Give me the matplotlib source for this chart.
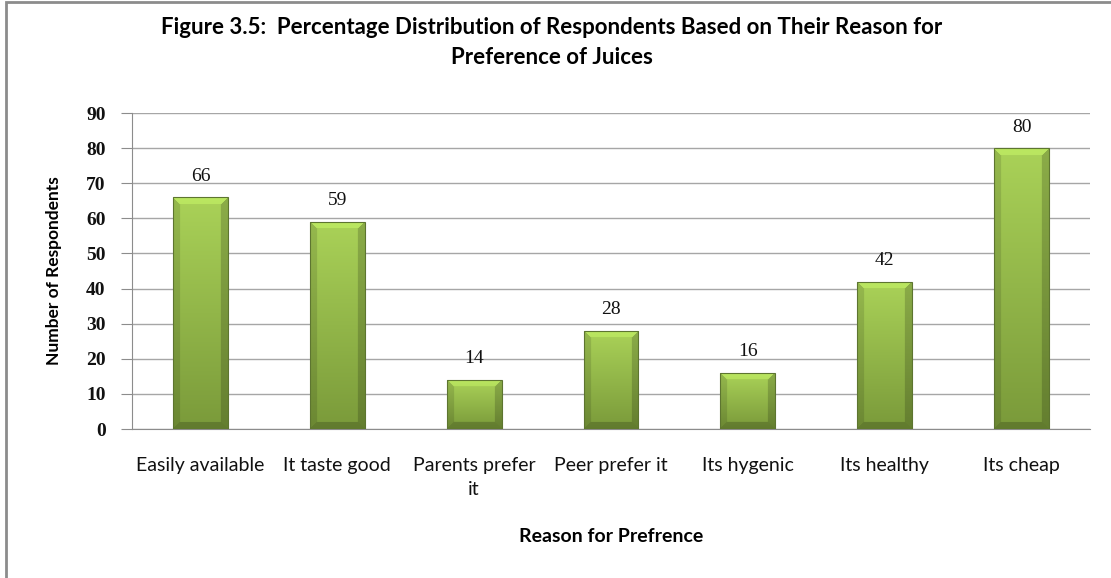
import matplotlib.pyplot as plt
from matplotlib.patches import Rectangle
import numpy as np

reasons = ['Easily available', 'It taste good', 'Parents prefer\nit', 'Peer prefer it',
           'Its hygenic', 'Its healthy', 'Its cheap']
respondents = [66, 59, 14, 28, 16, 42, 80]
yticks = [0, 10, 20, 30, 40, 50, 60, 70, 80, 90]

W, H, dpi = 1111, 578, 100
fig = plt.figure(figsize=(W/dpi, H/dpi), dpi=dpi)
ax = fig.add_axes([132/W, 1-429/H, (1090-132)/W, (429-113)/H])

sans = 'Lato'
serif = 'Liberation Serif'
grey = '#8c8c8c'

x = np.arange(len(reasons))
bw = 0.4
ax.set_xlim(-0.5, len(reasons) - 0.5)
ax.set_ylim(0, 90)

# gradient + bevel fill for the bars
top = np.array([170, 210, 88]) / 255.
bot = np.array([122, 154, 58]) / 255.
px_per_x = (1090 - 132) / len(reasons)
px_per_y = (429 - 113) / 90.
bev = 7


def bar_image(h_px, w_px):
    ny, nx = max(int(h_px), 2), max(int(w_px), 2)
    t = np.linspace(0, 1, ny)[:, None, None]
    img = (top * (1 - t) + bot * t) * np.ones((ny, nx, 3))
    yy, xx = np.mgrid[0:ny, 0:nx]
    d_top, d_bot = yy, ny - 1 - yy
    d_left, d_right = xx, nx - 1 - xx
    dmin = np.minimum.reduce([d_top, d_bot, d_left, d_right])
    edge = dmin < bev
    which = np.argmin(np.stack([d_top, d_bot, d_left, d_right]), axis=0)
    shade = np.ones((ny, nx))
    shade[edge & (which == 0)] = 1.10
    shade[edge & (which == 1)] = 0.80
    shade[edge & (which == 2)] = 0.88
    shade[edge & (which == 3)] = 0.82
    return np.clip(img * shade[:, :, None], 0, 1)


for xi, v in zip(x, respondents):
    rect = Rectangle((xi - bw/2, 0), bw, v, facecolor='none', edgecolor='#5d7530',
                     lw=0.8, zorder=4)
    ax.add_patch(rect)
    im = ax.imshow(bar_image(v*px_per_y, bw*px_per_x), extent=(xi - bw/2, xi + bw/2, 0, v),
                   aspect='auto', origin='upper', zorder=3, interpolation='bilinear')
    im.set_clip_path(rect)
    ax.annotate(str(v), (xi, v), xytext=(0, 9), textcoords='offset points', ha='center',
                va='bottom', fontsize=14, family=serif, color='#111111')

ax.set_xticks(x)
ax.set_xticklabels(reasons, fontsize=14, family=sans, color='#111111', linespacing=1.5,
                   va='top')
ax.tick_params(axis='x', length=0, pad=20)
ax.set_yticks(yticks)
ax.set_yticklabels([str(t) for t in yticks], fontsize=14, family=serif, fontweight='bold',
                   color='#111111')
ax.tick_params(axis='y', length=8, color=grey, pad=11)

ax.grid(axis='y', color='#a6a6a6', lw=1, zorder=0)
ax.set_axisbelow(True)
for s in ['top', 'right']:
    ax.spines[s].set_visible(False)
ax.spines['left'].set_color(grey)
ax.spines['bottom'].set_color(grey)

ax.set_ylabel('Number of Respondents', fontsize=12.5, family=sans, fontweight='bold',
              labelpad=17)
ax.set_xlabel('Reason for Prefrence', fontsize=14, family=sans, fontweight='bold',
              labelpad=22)

fig.text(552/W, 1-28/H, 'Figure 3.5:  Percentage Distribution of Respondents Based on Their Reason for',
         ha='center', va='center', fontsize=16, family=sans, fontweight='bold')
fig.text(552/W, 1-58/H, 'Preference of Juices', ha='center', va='center', fontsize=16,
         family=sans, fontweight='bold')

# outer chart frame
fig.patches.append(Rectangle((6/W, -0.1), 1.2, 1 - 2/H + 0.1, transform=fig.transFigure,
                             fill=False, edgecolor=grey, lw=2))

fig.savefig('out.png', dpi=dpi)
